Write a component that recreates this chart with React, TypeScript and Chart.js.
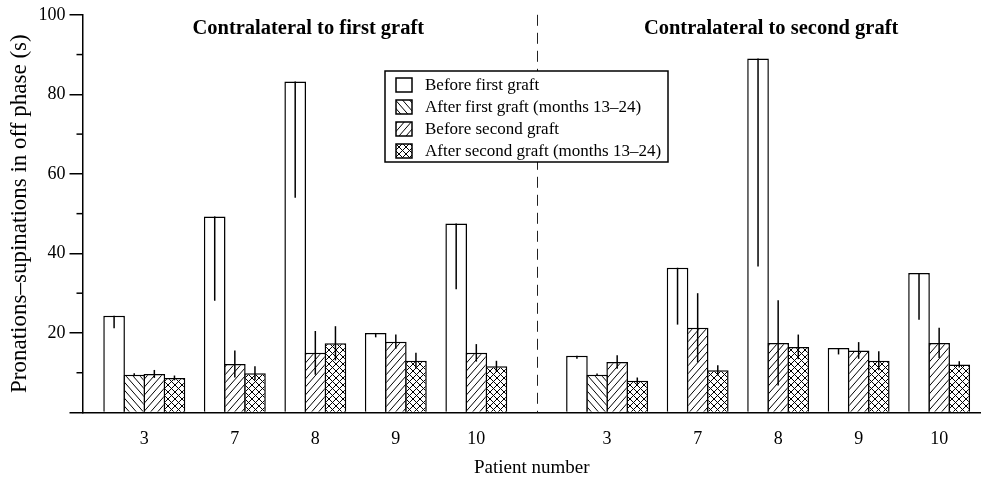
import React, { useEffect, useRef } from 'react';
import { Chart, registerables } from 'chart.js';

Chart.register(...registerables);

// ---------------- data ----------------
const patients = ['3', '7', '8', '9', '10'];
const panelTitles = ['Contralateral to first graft', 'Contralateral to second graft'];
const seriesLabels = [
  'Before first graft',
  'After first graft (months 13–24)',
  'Before second graft',
  'After second graft (months 13–24)',
];
const xTitle = 'Patient number';
const yTitle = 'Pronations–supinations in off phase (s)';
const yTickValues = [0, 20, 40, 60, 80, 100];

// Panel 1: contralateral to first graft
const beforeFirstP1 = [24.3, 49.3, 83.2, 20.0, 47.5];
const afterFirstP1 = [9.5, null, null, null, null];
const beforeSecondP1 = [9.7, 12.2, 15.0, 17.8, 15.0];
const afterSecondP1 = [8.7, 9.9, 17.4, 13.0, 11.6];
const beforeFirstErrP1 = [3.1, 21.2, 29.2, 1.1, 16.5];
const afterFirstErrP1 = [0.4, null, null, null, null];
const beforeSecondErrP1 = [1.0, 3.4, 5.5, 1.8, 2.2];
const afterSecondErrP1 = [0.6, 1.7, 4.3, 2.0, 1.4];

// Panel 2: contralateral to second graft
const beforeFirstP2 = [14.3, 36.4, 89.0, 16.2, 35.1];
const afterFirstP2 = [9.5, null, null, null, null];
const beforeSecondP2 = [12.7, 21.3, 17.5, 15.6, 17.5];
const afterSecondP2 = [8.0, 10.6, 16.5, 13.0, 12.1];
const beforeFirstErrP2 = [0.8, 14.3, 52.3, 1.6, 11.8];
const afterFirstErrP2 = [0.3, null, null, null, null];
const beforeSecondErrP2 = [1.7, 8.7, 10.7, 2.1, 3.8];
const afterSecondErrP2 = [0.8, 1.3, 3.1, 2.4, 0.8];

const panelValues: (number | null)[][][] = [
  [beforeFirstP1, afterFirstP1, beforeSecondP1, afterSecondP1],
  [beforeFirstP2, afterFirstP2, beforeSecondP2, afterSecondP2],
];
const panelErrors: (number | null)[][][] = [
  [beforeFirstErrP1, afterFirstErrP1, beforeSecondErrP1, afterSecondErrP1],
  [beforeFirstErrP2, afterFirstErrP2, beforeSecondErrP2, afterSecondErrP2],
];

// ---------------- layout / style ----------------
const errorModes = ['down', 'both', 'both', 'both'];
const patternKinds = ['none', 'back', 'fwd', 'cross'];
const GROUP_GAP = 1;
const PANEL_GAP = 3;
const FONT = "'Liberation Serif', 'Times New Roman', serif";

type Group = { center: number; label: string };
const groups: Group[] = [];
const points: { x: number; y: number }[][] = seriesLabels.map(() => []);
const errs: number[][] = seriesLabels.map(() => []);
const panelSpans: [number, number][] = [];
{
  let slot = 0;
  panelValues.forEach((series, p) => {
    if (p > 0) slot += PANEL_GAP - GROUP_GAP;
    const start = slot;
    patients.forEach((label, i) => {
      const first = slot;
      series.forEach((vals, s) => {
        const v = vals[i];
        if (v === null || v === undefined) return;
        points[s].push({ x: slot, y: v });
        errs[s].push(panelErrors[p][s][i] ?? 0);
        slot++;
      });
      groups.push({ center: (first + slot - 1) / 2, label });
      slot += GROUP_GAP;
    });
    panelSpans.push([start, slot - 1 - GROUP_GAP]);
  });
}
const separatorSlot = (panelSpans[0][1] + panelSpans[1][0]) / 2;
const xMin = panelSpans[0][0] - 1.57;
const xMax = panelSpans[1][1] + 1.08;

function makePattern(ctx: CanvasRenderingContext2D, kind: string): CanvasPattern | string {
  if (kind === 'none') return '#ffffff';
  const c = document.createElement('canvas');
  const w = 7;
  const h = kind === 'cross' ? 7 : 8;
  c.width = w;
  c.height = h;
  const g = c.getContext('2d')!;
  g.fillStyle = '#fff';
  g.fillRect(0, 0, w, h);
  g.strokeStyle = '#000';
  g.lineWidth = 1;
  const line = (x0: number, y0: number, x1: number, y1: number) => {
    for (const dx of [-w, 0, w]) {
      g.beginPath();
      g.moveTo(x0 + dx, y0);
      g.lineTo(x1 + dx, y1);
      g.stroke();
    }
  };
  if (kind === 'back' || kind === 'cross') line(0, 0, w, h);
  if (kind === 'fwd' || kind === 'cross') line(0, h, w, 0);
  return ctx.createPattern(c, 'repeat')!;
}

export default function App() {
  const ref = useRef<HTMLCanvasElement | null>(null);

  useEffect(() => {
    const canvas = ref.current;
    if (!canvas) return;
    const ctx0 = canvas.getContext('2d')!;
    const patterns = patternKinds.map((k) => makePattern(ctx0, k));

    Chart.defaults.font.family = FONT;
    Chart.defaults.color = '#000';

    const decor = {
      id: 'decor',
      afterDatasetsDraw(chart: any) {
        const { ctx, chartArea, scales } = chart;
        const xs = scales.x;
        const ys = scales.y;
        ctx.save();
        // minor ticks on y axis
        ctx.strokeStyle = '#000';
        ctx.lineWidth = 1.5;
        for (let k = 0; k < yTickValues.length - 1; k++) {
          const v = (yTickValues[k] + yTickValues[k + 1]) / 2;
          const y = ys.getPixelForValue(v);
          ctx.beginPath();
          ctx.moveTo(chartArea.left - 6, y);
          ctx.lineTo(chartArea.left, y);
          ctx.stroke();
        }
        // error bars
        chart.data.datasets.forEach((ds: any, di: number) => {
          const meta = chart.getDatasetMeta(di);
          meta.data.forEach((el: any, j: number) => {
            const v = ds.data[j].y;
            const e = ds.errors[j] || 0;
            if (!e) return;
            const top = ds.errorMode === 'down' ? v : v + e;
            const bot = v - e;
            ctx.beginPath();
            ctx.moveTo(el.x, ys.getPixelForValue(top));
            ctx.lineTo(el.x, ys.getPixelForValue(bot));
            ctx.stroke();
          });
        });
        // dashed separator
        const sx = Math.round(xs.getPixelForValue(separatorSlot)) + 0.5;
        ctx.lineWidth = 1;
        ctx.strokeStyle = '#222';
        ctx.setLineDash([11, 7]);
        ctx.beginPath();
        ctx.moveTo(sx, chartArea.top);
        ctx.lineTo(sx, chartArea.bottom);
        ctx.stroke();
        ctx.setLineDash([]);
        // panel titles
        ctx.fillStyle = '#000';
        ctx.font = `bold 20.5px ${FONT}`;
        ctx.textAlign = 'center';
        ctx.textBaseline = 'alphabetic';
        panelSpans.forEach((span, p) => {
          const cx = xs.getPixelForValue((span[0] + span[1]) / 2 + 0.15);
          ctx.fillText(panelTitles[p], cx, 33.5);
        });
        // legend box
        const lx = 385, ly = 71, lw = 283, lh = 91;
        ctx.fillStyle = '#fff';
        ctx.fillRect(lx, ly, lw, lh);
        ctx.strokeStyle = '#000';
        ctx.lineWidth = 1.5;
        ctx.strokeRect(lx, ly, lw, lh);
        ctx.font = `17px ${FONT}`;
        ctx.textAlign = 'left';
        ctx.textBaseline = 'middle';
        seriesLabels.forEach((lab, k) => {
          const yc = ly + 14 + k * 22;
          ctx.fillStyle = patterns[k] as any;
          ctx.fillRect(396, yc - 7, 16, 14);
          ctx.strokeStyle = '#000';
          ctx.lineWidth = 1.5;
          ctx.strokeRect(396, yc - 7, 16, 14);
          ctx.fillStyle = '#000';
          ctx.fillText(lab, 425, yc + 1);
        });
        ctx.restore();
      },
    };

    const chart = new Chart(canvas, {
      type: 'bar',
      data: {
        datasets: seriesLabels.map((label, s) => ({
          label,
          data: points[s],
          backgroundColor: patterns[s] as any,
          borderColor: '#000',
          borderWidth: 1.5,
          borderSkipped: 'start',
          grouped: false,
          barPercentage: 1.075,
          categoryPercentage: 1,
          errors: errs[s],
          errorMode: errorModes[s],
        })) as any,
      },
      options: {
        animation: false,
        responsive: true,
        maintainAspectRatio: false,
        layout: { padding: { top: 12.5, right: 0, left: 0, bottom: 0 } },
        plugins: { legend: { display: false }, tooltip: { enabled: false } },
        scales: {
          x: {
            type: 'linear',
            min: xMin,
            max: xMax,
            offset: false,
            grid: { display: false, drawTicks: false, offset: false },
            border: { display: true, color: '#000', width: 1.5 },
            afterBuildTicks: (scale: any) => {
              scale.ticks = groups.map((g) => ({ value: g.center }));
            },
            afterFit: (scale: any) => {
              scale.height = 69.5;
            },
            ticks: {
              autoSkip: false,
              maxRotation: 0,
              padding: 16,
              font: { size: 18 },
              callback: (_v: any, i: number) => (groups[i] ? groups[i].label : ''),
            },
            title: {
              display: true,
              text: xTitle,
              font: { size: 19 },
              padding: { top: 0, bottom: 3 },
            },
          } as any,
          y: {
            min: 0,
            max: 100,
            afterBuildTicks: (scale: any) => {
              scale.ticks = yTickValues.map((v) => ({ value: v }));
            },
            ticks: {
              padding: 4,
              font: { size: 18 },
              callback: (v: any) => (v === 0 ? '' : String(v)),
            },
            grid: {
              drawOnChartArea: false,
              drawTicks: true,
              tickLength: 13,
              color: '#000',
              lineWidth: 1.5,
            },
            border: { color: '#000', width: 1.5 },
            afterFit: (scale: any) => {
              scale.width = 82.5;
            },
            title: {
              display: true,
              text: yTitle,
              font: { size: 23 },
              padding: { top: 6, bottom: 0 },
            },
          } as any,
        },
      },
      plugins: [decor],
    });

    return () => {
      chart.destroy();
    };
  }, []);

  return (
    <div style={{ position: 'fixed', left: 0, top: 0, width: 981, height: 482, background: '#fff' }}>
      <canvas ref={ref} />
    </div>
  );
}
